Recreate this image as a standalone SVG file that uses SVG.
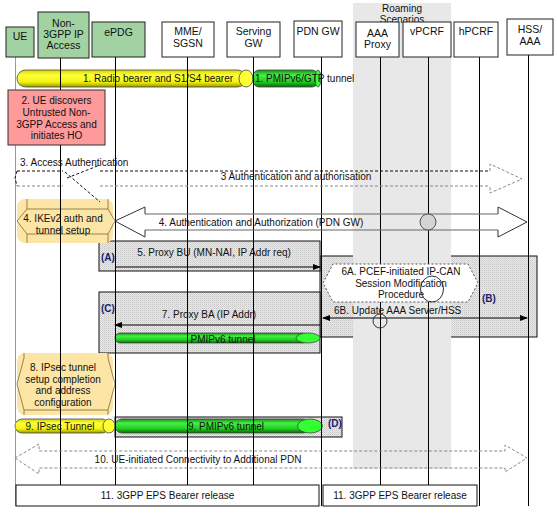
<svg xmlns="http://www.w3.org/2000/svg" width="557" height="515" viewBox="0 0 557 515">
<style>
text{font-family:"Liberation Sans",Arial,sans-serif;font-size:10px;fill:#111}
.hd{font-size:10.5px;text-anchor:middle}
.c{text-anchor:middle}
.lab{font-weight:bold;fill:#1a1a6e}
.node{stroke:#222;stroke-width:1}
.green{fill:#a2d2a2}
.white{fill:#fff}
.life{stroke:#000;stroke-width:1;fill:none}
.hatch{fill:url(#hatch);stroke:#111;stroke-width:1}
.tube{stroke:#444;stroke-width:0.8}
.dk{stroke:#111;stroke-dasharray:3,2;fill:none;stroke-width:1}
.gy{stroke:#888;stroke-dasharray:3,2;fill:none;stroke-width:1}
.msg{stroke:#000;stroke-width:1;fill:none}
</style>
<defs>
<pattern id="hatch" width="2" height="2" patternUnits="userSpaceOnUse">
<rect width="2" height="2" fill="#eaeaea"/>
<rect width="1" height="1" fill="#c6c6c6"/>
<rect x="1" y="1" width="1" height="1" fill="#d6d6d6"/>
</pattern>
<linearGradient id="yel" x1="0" y1="0" x2="0" y2="1">
<stop offset="0" stop-color="#d4d400"/>
<stop offset="0.3" stop-color="#ffff3a"/>
<stop offset="0.7" stop-color="#f4f410"/>
<stop offset="1" stop-color="#9a9a00"/>
</linearGradient>
<linearGradient id="grn" x1="0" y1="0" x2="0" y2="1">
<stop offset="0" stop-color="#159015"/>
<stop offset="0.3" stop-color="#44f044"/>
<stop offset="0.7" stop-color="#22cc22"/>
<stop offset="1" stop-color="#0a660a"/>
</linearGradient>
<marker id="ah" markerWidth="8" markerHeight="6" refX="7" refY="3" orient="auto" markerUnits="userSpaceOnUse">
<path d="M0,0 L8,3 L0,6 Z" fill="#000"/>
</marker>
<marker id="ahs" markerWidth="8" markerHeight="6" refX="1" refY="3" orient="auto" markerUnits="userSpaceOnUse">
<path d="M8,0 L0,3 L8,6 Z" fill="#000"/>
</marker>
</defs>
<rect width="557" height="515" fill="#fff"/>

<g id="background">
<rect id="boxB" class="hatch" x="320" y="256" width="217" height="81"/>
<rect x="353" y="3" width="98" height="466" fill="#e8e8e8"/>
<text class="c" x="402" y="12">Roaming</text>
<text class="c" x="402" y="23">Scenarios</text>
<rect id="boxA" class="hatch" x="99" y="241" width="221" height="30"/>
<rect id="boxC" class="hatch" x="99" y="292" width="221" height="61"/>
<rect id="boxD" class="hatch" x="115" y="417" width="227" height="20"/>
<g id="step4-shape">
<rect x="17" y="199" width="96" height="44" rx="8" fill="#fde5a6"/>
<path d="M27,199 V209 H108 V199 M108,209 L115,221 L108,234 V243 M108,234 H27 V243 M27,234 L17,221 L27,209" fill="none" stroke="#7a6a3a" stroke-width="0.8"/>
</g>
<g id="step8-shape">
<rect x="17" y="353" width="96" height="62" rx="8" fill="#fde5a6"/>
<path d="M24,353 V358 L17,384 L24,410 V415 M108,353 V358 L115,384 L108,410 V415 M24,410 H108" fill="none" stroke="#7a6a3a" stroke-width="0.8"/>
</g>
</g>

<g id="tubes">
<rect class="tube" x="17" y="70" width="229" height="17" rx="8.5" fill="url(#yel)"/>
<ellipse class="tube" cx="246" cy="78.5" rx="7" ry="8.5" fill="#ffff33"/>
<rect class="tube" x="253" y="70" width="65" height="17" rx="6" fill="url(#grn)"/>
<ellipse class="tube" cx="318" cy="78.5" rx="3" ry="8.5" fill="#33ff33"/>
<rect class="tube" x="115" y="333" width="193" height="10" rx="5" fill="url(#grn)"/>
<ellipse class="tube" cx="308" cy="338" rx="12" ry="5" fill="#33ff33"/>
<rect class="tube" x="15" y="419" width="94" height="14" rx="7" fill="url(#yel)"/>
<ellipse class="tube" cx="109" cy="426" rx="6" ry="7" fill="#ffff33"/>
<rect class="tube" x="115" y="419" width="195" height="14" rx="7" fill="url(#grn)"/>
<ellipse class="tube" cx="310" cy="426" rx="12.5" ry="7" fill="#33ff33"/>
</g>

<g id="node-UE">
<line x1="15.5" y1="57" x2="15.5" y2="506" stroke="#999" stroke-width="1"/>
<rect class="node green" x="6" y="27" width="28" height="30"/>
<text class="hd" x="20" y="40">UE</text>
</g>
<g id="node-non3gpp">
<line class="life" x1="60.5" y1="58" x2="60.5" y2="485"/>
<rect class="node green" x="38" y="12" width="51" height="46"/>
<text class="hd" x="63.5" y="27">Non-</text>
<text class="hd" x="63.5" y="38">3GPP IP</text>
<text class="hd" x="63.5" y="49">Access</text>
</g>
<g id="node-ePDG">
<line class="life" x1="115.5" y1="57" x2="115.5" y2="485"/>
<rect class="node green" x="92" y="22" width="53" height="35"/>
<text class="hd" x="118.5" y="36">ePDG</text>
</g>
<g id="node-MME">
<line class="life" x1="187.5" y1="57" x2="187.5" y2="485"/>
<rect class="node white" x="162" y="22" width="52" height="35"/>
<text class="hd" x="188" y="35">MME/</text>
<text class="hd" x="188" y="47">SGSN</text>
</g>
<g id="node-SGW">
<line class="life" x1="253.5" y1="57" x2="253.5" y2="485"/>
<rect class="node white" x="227" y="22" width="53" height="35"/>
<text class="hd" x="253.5" y="35">Serving</text>
<text class="hd" x="253.5" y="47">GW</text>
</g>
<g id="node-PDNGW">
<line class="life" x1="321.5" y1="57" x2="321.5" y2="506"/>
<rect class="node white" x="294" y="21" width="48" height="36"/>
<text class="hd" x="318" y="35">PDN GW</text>
</g>
<g id="node-AAAProxy">
<line class="life" x1="380.5" y1="57" x2="380.5" y2="485"/>
<rect class="node white" x="356" y="22" width="43" height="35"/>
<text class="hd" x="377.5" y="37">AAA</text>
<text class="hd" x="377.5" y="48">Proxy</text>
</g>
<g id="node-vPCRF">
<line class="life" x1="428.5" y1="57" x2="428.5" y2="485"/>
<rect class="node white" x="403" y="22" width="48" height="35"/>
<text class="hd" x="427" y="35">vPCRF</text>
</g>
<g id="node-hPCRF">
<line class="life" x1="479.5" y1="57" x2="479.5" y2="506"/>
<rect class="node white" x="454" y="22" width="44" height="35"/>
<text class="hd" x="476" y="35">hPCRF</text>
</g>
<g id="node-HSS">
<line class="life" x1="528.5" y1="55" x2="528.5" y2="506"/>
<rect class="node white" x="507" y="19" width="46" height="36"/>
<text class="hd" x="530" y="33">HSS/</text>
<text class="hd" x="530" y="45">AAA</text>
</g>

<g id="step2">
<rect x="8" y="90" width="97" height="55" fill="#ff9a9a" stroke="#333" stroke-width="1"/>
<text class="c" x="56.5" y="104">2. UE discovers</text>
<text class="c" x="56.5" y="116">Untrusted Non-</text>
<text class="c" x="56.5" y="128">3GPP Access and</text>
<text class="c" x="56.5" y="139">initiates HO</text>
</g>

<g id="step6A">
<path d="M323,283 L333,264 H468 L478,283 L468,302 H333 Z" fill="#fff" stroke="#555" stroke-dasharray="2,2" stroke-width="1"/>
<text class="c" x="401" y="275">6A. PCEF-initiated IP-CAN</text>
<text class="c" x="401" y="287">Session Modification</text>
<text class="c" x="401" y="298">Procedure</text>
</g>

<g id="step11">
<rect x="16" y="485" width="303" height="21" fill="#fff" stroke="#111" stroke-width="1"/>
<text class="c" x="167.5" y="499">11. 3GPP EPS Bearer release</text>
<rect x="323" y="485" width="154" height="21" fill="#fff" stroke="#111" stroke-width="1"/>
<text class="c" x="400" y="499">11. 3GPP EPS Bearer release</text>
</g>

<g id="connectors">
<text class="c" x="158" y="82">1. Radio bearer and S1/S4 bearer</text>
<text x="255" y="82">1. PMIPv6/GTP tunnel</text>

<path class="dk" d="M17,171 H63 M100,171 H490"/>
<path class="gy" d="M17,186 H63 M100,186 H490"/>
<path class="dk" d="M17,171 L15,178 L17,186"/>
<path class="dk" d="M65,172 L100,202 M67,178 L100,165"/>
<path class="gy" d="M490,171 V164 L522,179 L490,193 V186"/>
<text x="20" y="166">3. Access Authentication</text>
<text class="c" x="296" y="180">3 Authentication and authorisation</text>

<path d="M145,214 H498 M145,230 H498" stroke="#666" stroke-width="1" fill="none"/>
<path d="M145,214 V207 L115,221 L145,237 V230 M498,214 V207 L527,222 L498,237 V230" stroke="#333" stroke-width="1" fill="none"/>
<text class="c" x="261" y="226">4. Authentication and Authorization (PDN GW)</text>
<circle cx="428" cy="222" r="8" fill="#d4d4d4" stroke="#555" stroke-width="1"/>
<text class="c" x="63" y="222">4. IKEv2 auth and</text>
<text class="c" x="63" y="234">tunnel setup</text>

<text class="lab" x="101" y="261">(A)</text>
<text class="c" x="214" y="256">5. Proxy BU (MN-NAI, IP Addr req)</text>
<line class="msg" x1="115" y1="267" x2="320" y2="267" marker-end="url(#ah)"/>

<text class="lab" x="482" y="302">(B)</text>
<text x="334" y="314">6B. Update AAA Server/HSS</text>
<line class="msg" x1="323" y1="318" x2="527" y2="318" marker-start="url(#ahs)" marker-end="url(#ah)"/>
<circle cx="380" cy="321" r="7" fill="none" stroke="#333" stroke-width="1"/>
<ellipse cx="432" cy="289" rx="11.5" ry="13" fill="none" stroke="#333" stroke-width="1"/>

<text class="lab" x="101" y="312">(C)</text>
<text class="c" x="209" y="318">7. Proxy BA (IP Addr)</text>
<line class="msg" x1="320" y1="325" x2="115" y2="325" marker-end="url(#ah)"/>
<text class="c" x="223" y="343">PMIPv6 tunnel</text>

<text class="c" x="63" y="371">8. IPsec tunnel</text>
<text class="c" x="63" y="383">setup completion</text>
<text class="c" x="63" y="394">and address</text>
<text class="c" x="63" y="406">configuration</text>

<text class="c" x="60" y="430">9. IPsec Tunnel</text>
<text class="c" x="226" y="430">9. PMIPv6 tunnel</text>
<text class="lab" x="328" y="427">(D)</text>

<path class="gy" d="M15,458 L39,444 V451 H505 V445 L527,458 L505,472 V468 H39 V474 Z" stroke="#666"/>
<text class="c" x="198" y="463">10. UE-initiated Connectivity to Additional PDN</text>
</g>
</svg>
